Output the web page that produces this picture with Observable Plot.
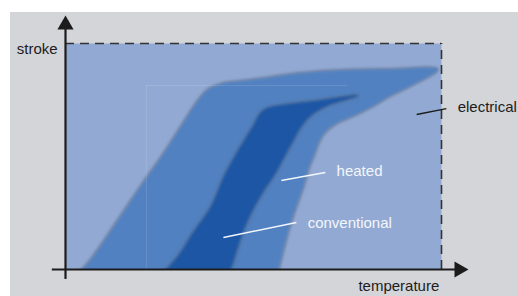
<!DOCTYPE html>
<html>
<head>
<meta charset="utf-8">
<script src="https://cdn.jsdelivr.net/npm/d3@7"></script>
<script src="https://cdn.jsdelivr.net/npm/@observablehq/plot@0.6"></script>
<style>
  body { margin: 0; background: #ffffff; }
  #chart svg { display: block; margin: 12px 0 0 10px; }
</style>
</head>
<body>
<div id="chart"></div>
<script>
// ---- data (schematic: temperature 0..100 on x, stroke 0..100 on y) ----
// "heated" band outline: up the left edge, along the top, down the right edge
const heatedX = [2.9, 4.5, 6.6, 9.3, 15.2, 20.6, 25.4, 30.6, 35.1, 38.0, 42.0, 48.4, 54.5, 61.7, 73.1, 86.4, 98.9,
                 91.8, 86.4, 81.9, 76.6, 72.3, 69.7, 67.8, 66.0, 64.6, 63.3, 61.4, 59.8, 58.2, 56.6, 56.1];
const heatedY = [-3, 0, 4.0, 10.2, 24.8, 38.1, 49.4, 62.8, 74.3, 79.6, 82.3, 83.6, 85.0, 86.7, 88.1, 88.5, 88.5,
                 81.4, 77.0, 72.6, 68.1, 65.0, 61.9, 58.0, 50.4, 44.7, 37.2, 28.3, 20.4, 10.6, 0, -3];
// "conventional" band outline
const convX = [25.3, 26.9, 30.1, 34.0, 38.6, 42.3, 45.5, 47.9, 50.0, 51.6, 53.5, 59.0, 67.8, 77.7,
               69.7, 65.2, 62.5, 60.4, 58.2, 55.6, 52.4, 49.7, 47.3, 45.5, 43.9, 43.3];
const convY = [-3, 0, 6.2, 16.4, 27.4, 41.6, 51.3, 58.0, 63.7, 68.6, 71.2, 73.0, 74.8, 77.0,
               72.6, 68.1, 62.8, 56.6, 50.0, 42.0, 34.1, 26.1, 17.3, 8.4, 0, -3];
// labels
const axisLabels = ["stroke", "temperature"];
const seriesLabels = ["electrical", "heated", "conventional"];

const heated = heatedX.map((x, i) => ({x, y: heatedY[i]}));
const conventional = convX.map((x, i) => ({x, y: convY[i]}));

const C = {
  bg: "#d4d5d9", electrical: "#92aad3", heated: "#5181c0", conventional: "#1c57a4",
  halo: "#4d5670", ink: "#1c1c1c", white: "#f3f6fb"
};

const plot = Plot.plot({
  width: 508, height: 284,
  marginLeft: 55, marginRight: 77, marginTop: 31, marginBottom: 27,
  x: {domain: [0, 100], axis: null},
  y: {domain: [0, 100], axis: null},
  style: {background: C.bg, fontFamily: "'Liberation Sans', Arial, sans-serif", overflow: "visible"},
  marks: [
    Plot.frame({fill: C.electrical, stroke: "none"}),
    // heated band
    Plot.line(heated, {x: "x", y: "y", curve: "catmull-rom", stroke: C.halo, strokeWidth: 3, strokeOpacity: 0.5, fill: "none", clip: true}),
    Plot.line(heated, {x: "x", y: "y", curve: "catmull-rom", fill: C.heated, stroke: "none", clip: true}),
    // conventional band
    Plot.line(conventional, {x: "x", y: "y", curve: "catmull-rom", stroke: C.halo, strokeWidth: 3, strokeOpacity: 0.5, fill: "none", clip: true}),
    Plot.line(conventional, {x: "x", y: "y", curve: "catmull-rom", fill: C.conventional, stroke: "none", clip: true}),
    // faint artefact lines of the original
    Plot.ruleX([21.5], {y1: 0, y2: 81.4, stroke: "#ffffff", strokeOpacity: 0.12}),
    Plot.ruleY([81.4], {x1: 21.5, x2: 75, stroke: "#ffffff", strokeOpacity: 0.12}),
    // dashed limits
    Plot.ruleY([100], {x1: 0, x2: 100, stroke: "#333", strokeWidth: 1.6, strokeDasharray: "9,6"}),
    Plot.ruleX([100], {y1: 0, y2: 100, stroke: "#333", strokeWidth: 1.6, strokeDasharray: "9,6"}),
    // leader lines
    Plot.link([{x1: 57.4, y1: 39.4, x2: 69.1, y2: 42.9}, {x1: 42.0, y1: 14.2, x2: 61.4, y2: 20.8}],
      {x1: "x1", y1: "y1", x2: "x2", y2: "y2", stroke: C.white, strokeWidth: 1.5}),
    Plot.link([{x1: 93.4, y1: 68.6, x2: 101.3, y2: 71.2}],
      {x1: "x1", y1: "y1", x2: "x2", y2: "y2", stroke: C.ink, strokeWidth: 1.4}),
    // axes
    Plot.ruleY([0], {x1: -3.5, x2: 104, stroke: C.ink, strokeWidth: 2.2}),
    Plot.ruleX([0], {y1: -4.4, y2: 108, stroke: C.ink, strokeWidth: 2.2}),
    Plot.dot([{x: 0, y: 108.3}], {x: "x", y: "y", symbol: "triangle", r: 6, fill: C.ink, stroke: "none"}),
    Plot.dot([{x: 104.7, y: 0}], {x: "x", y: "y", symbol: "triangle", r: 6, rotate: 90, fill: C.ink, stroke: "none"}),
    // texts
    Plot.text([axisLabels[0]], {x: -2.1, y: 97.7, text: d => d, textAnchor: "end", fill: C.ink, fontSize: 15}),
    Plot.text([axisLabels[1]], {x: 77.9, y: -7.2, text: d => d, textAnchor: "start", fill: C.ink, fontSize: 15}),
    Plot.text([seriesLabels[0]], {x: 104.3, y: 72.0, text: d => d, textAnchor: "start", fill: C.ink, fontSize: 15}),
    Plot.text([seriesLabels[1]], {x: 72.1, y: 43.6, text: d => d, textAnchor: "start", fill: C.white, fontSize: 15}),
    Plot.text([seriesLabels[2]], {x: 64.4, y: 20.7, text: d => d, textAnchor: "start", fill: C.white, fontSize: 15})
  ]
});

// soft edges like the airbrushed original
const ns = "http://www.w3.org/2000/svg";
const defs = document.createElementNS(ns, "defs");
defs.innerHTML =
  '<filter id="halo" x="-20%" y="-20%" width="140%" height="140%"><feGaussianBlur stdDeviation="1.6"/></filter>' +
  '<filter id="soft" x="-20%" y="-20%" width="140%" height="140%"><feGaussianBlur stdDeviation="0.8"/></filter>';
plot.insertBefore(defs, plot.firstChild);
plot.querySelectorAll(`g[stroke="${C.halo}"]`).forEach(g => g.setAttribute("filter", "url(#halo)"));
plot.querySelectorAll(`g[fill="${C.heated}"], g[fill="${C.conventional}"]`).forEach(g => g.setAttribute("filter", "url(#soft)"));

document.getElementById("chart").appendChild(plot);
</script>
</body>
</html>
